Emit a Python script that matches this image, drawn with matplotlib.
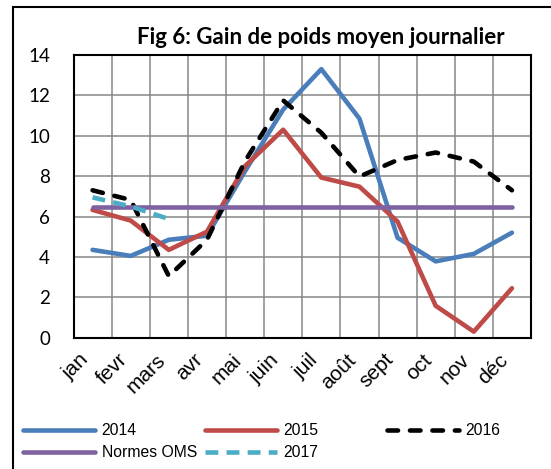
import matplotlib
matplotlib.use("Agg")
import matplotlib.pyplot as plt
from matplotlib.patches import Rectangle
from matplotlib.transforms import ScaledTranslation

mois = ["jan", "fevr", "mars", "avr", "mai", "juin", "juil", "août",
        "sept", "oct", "nov", "déc"]
gmq_2014 = [4.35, 4.05, 4.85, 5.05, 8.25, 11.3, 13.3, 10.85, 4.95, 3.78, 4.15, 5.2]
gmq_2015 = [6.33, 5.8, 4.35, 5.25, 8.5, 10.3, 7.93, 7.48, 5.75, 1.58, 0.3, 2.45]
gmq_2016 = [7.3, 6.82, 3.05, 4.85, 8.75, 11.75, 10.15, 7.98, 8.8, 9.17, 8.72, 7.3]
gmq_2017 = [6.95, 6.5, 5.88]
normes_oms = [6.45] * 12

W, H = 551, 469
fig = plt.figure(figsize=(W / 100, H / 100), dpi=100)
ax = fig.add_axes([73.5 / W, 1 - 337.7 / H, (531 - 73.5) / W, (337.7 - 55) / H])

x = list(range(len(mois)))
lw = 3.3
common = dict(lw=lw, solid_capstyle="round", solid_joinstyle="round")
l14, = ax.plot(x, gmq_2014, color="#4A7EBB", label="2014", **common)
l15, = ax.plot(x, gmq_2015, color="#BE4B48", label="2015", **common)
l16, = ax.plot(x, gmq_2016, color="black", lw=lw, dashes=(2.3, 2.6),
               dash_capstyle="round", dash_joinstyle="round", label="2016")
loms, = ax.plot(x, normes_oms, color="#7F63A1", label="Normes OMS", **common)
l17, = ax.plot(x[:len(gmq_2017)], gmq_2017, color="#4BACC6", lw=lw,
               dashes=(2.8, 1.8), dash_capstyle="butt", label="2017")

ax.set_xlim(-0.5, 11.5)
ax.set_ylim(0, 14)
ax.set_yticks(range(0, 15, 2))
ax.set_xticks(x)
ax.set_xticks([i + 0.5 for i in x[:-1]], minor=True)
ax.set_xticklabels(mois, rotation=45, ha="right", va="top",
                   family="Liberation Sans", fontsize=15)
decal = ScaledTranslation(5 / 100, -2 / 100, fig.dpi_scale_trans)
for lab in ax.get_xticklabels():
    lab.set_transform(lab.get_transform() + decal)
ax.tick_params(axis="x", which="both", length=0, pad=9)
ax.tick_params(axis="y", length=0, pad=17, labelsize=13.5)
for lab in ax.get_yticklabels():
    lab.set_family("Lato")
ax.grid(axis="y", which="major", color="#868686", lw=1.1)
ax.grid(axis="x", which="minor", color="#868686", lw=1.1)
ax.set_axisbelow(True)
for s in ax.spines.values():
    s.set_color("black")
    s.set_linewidth(1.5)

fig.text(321 / W, 1 - 37 / H, "Fig 6: Gain de poids moyen journalier",
         ha="center", va="center", fontsize=16, fontweight="bold", family="Lato")

# cadre du graphique
fig.patches.append(Rectangle((13 / W, -0.05), 1.2, 1 - 7 / H + 0.05,
                             transform=fig.transFigure, fill=False,
                             ec="black", lw=1.5))

# légende en 3 colonnes fixes comme Excel
colonnes = [[l14, loms], [l15, l17], [l16]]
x_col = [22.8, 204.5, 386.5]
for hs, xc in zip(colonnes, x_col):
    fig.legend(handles=hs, labels=[h.get_label() for h in hs],
               loc="upper left", bbox_to_anchor=(xc / W, 1 - 423 / H),
               frameon=False, borderpad=0, borderaxespad=0,
               handlelength=4.6, handletextpad=0.42, labelspacing=0.45,
               prop={"family": "Liberation Sans", "size": 11.3})

fig.savefig("out.png", dpi=100)
